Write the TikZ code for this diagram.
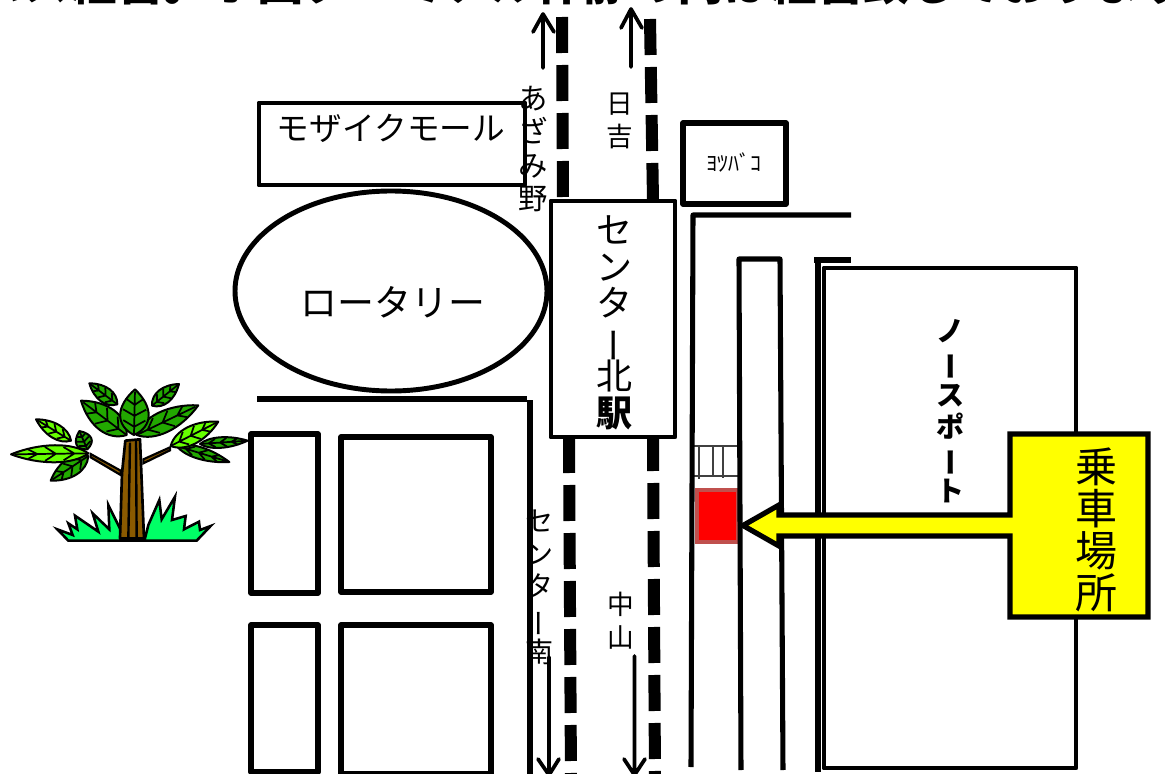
\documentclass[tikz,border=0pt]{standalone}
\usepackage{fontspec}
\setmainfont{Noto Sans CJK JP}
\usepackage{graphicx}
\lineskiplimit=-100pt
\newcommand\vbar{\hbox{\kern.34em\rotatebox[origin=c]{90}{ー}}}
\newcommand\fs[2]{\fontsize{#1}{#2}\selectfont}
\definecolor{leafdark}{HTML}{22A800}
\definecolor{leaflight}{HTML}{66FF00}
\definecolor{trunkbrown}{HTML}{8A5A00}
\definecolor{grassgreen}{HTML}{00FF66}
\definecolor{redstroke}{HTML}{C0504D}
\definecolor{calloutyellow}{HTML}{FFFF00}
\definecolor{stopred}{HTML}{FF0000}
\tikzset{
  ink/.style={draw=black,line width=3.7pt,line join=round},
  road/.style={draw=black,line width=3.8pt},
  rail/.style={draw=black,line width=9pt,dash pattern=on 27pt off 9pt},
  dirarrow/.style={draw=black,line width=2.8pt,line cap=round,line join=round},
  lbl/.style={inner sep=0pt,align=center},
}
\newcommand\treeleaf[6]{%
  \pgfmathsetmacro\leaflen{veclen(#4-#2,#5-#3)}%
  \pgfmathsetmacro\leafang{atan2(#3-#5,#4-#2)}%
  \begin{scope}[shift={(#2,#3)},rotate=\leafang,xscale=\leaflen,yscale=#6]
    \draw[fill=#1,draw=black,line width=1.5pt,line join=round]
      (0,0) .. controls (.2,-.62) and (.62,-.62) .. (1,0) .. controls (.62,.62) and (.2,.62) .. (0,0) -- cycle;
    \draw[black,line width=1.3pt] (0,0)--(.95,0)
      (.18,0)--(.32,-.36) (.18,0)--(.32,.36)
      (.42,0)--(.56,-.38) (.42,0)--(.56,.38)
      (.66,0)--(.78,-.26) (.66,0)--(.78,.26);
  \end{scope}}
\begin{document}
\begin{tikzpicture}[x=.75pt,y=-.75pt]
\useasboundingbox (0,0) rectangle (1165,774);
\fill[white] (0,0) rectangle (1165,774);

% clipped heading
\node[lbl,anchor=base west,font=\bfseries\fs{35}{40}] (heading) at (-23,1) {バス経営。ホ国ターミナル仲静の内は経営致しております};

% rails
\coordinate (ra1) at (562,17); \coordinate (ra2) at (563,200);
\coordinate (rb1) at (650,19); \coordinate (rb2) at (653,200);
\coordinate (rc1) at (569,437); \coordinate (rc2) at (571,780);
\coordinate (rd1) at (653,435); \coordinate (rd2) at (655,780);
\draw[rail] (ra1)--(ra2);
\draw[rail] (rb1)--(rb2);
\draw[rail] (rc1)--(rc2);
\draw[rail] (rd1)--(rd2);

% buildings and roads left
\draw[ink] (259,103) rectangle (525,185);
\draw[ink,fill=white] (391,291) ellipse [x radius=156,y radius=100];
\draw[ink,fill=white] (551,201) rectangle (675,437);
\draw[road] (257,399)--(527,399);
\draw[road] (530,400)--(530,774);
\draw[ink,line width=3.9pt] (251,434) rectangle (318,593);
\draw[ink,line width=3.9pt] (341,437) rectangle (491,592);
\draw[ink,line width=3.9pt] (251,625) rectangle (318,772);
\draw[ink,line width=3.9pt] (341,625) rectangle (491,774);
\draw[ink,line width=3.9pt] (683,123) rectangle (786,204);

% red stop and stairs
\draw[draw=redstroke,fill=stopred,line width=3pt] (697,490) rectangle (738,542);
\draw[black!75,line width=1.3pt] (694,446)--(739,446) (694,476)--(739,476)
  (699,446)--(699,479) (713,446)--(713,476) (723,446)--(723,478);

% right roads
\draw[road,line join=round] (851,215)--(693,215)--(691,767);
\draw[road,line join=round] (741,770)--(739,259)--(780,259)--(783,770);
\draw[road] (814,260)--(851,260);
\draw[road] (818,260)--(818,772);
\draw[ink] (824,268) rectangle (1076,768);

% callout
\draw[ink,fill=calloutyellow,line width=3.9pt,line join=miter]
  (1010,434)--(1148,434)--(1148,617)--(1010,617)--(1010,536)--(779,536)--(779,546)
  --(743,525.5)--(779,505)--(779,515)--(1010,515)--cycle;

% arrows
\coordinate (ua1) at (543,68); \coordinate (ua2) at (543,14);
\coordinate (ub1) at (631,67); \coordinate (ub2) at (631,9);
\coordinate (da1) at (549,657); \coordinate (da2) at (549,775);
\coordinate (db1) at (634.5,656); \coordinate (db2) at (634.5,775);
\draw[dirarrow] (ua1)--(ua2) (533,32)--(ua2)--(554,32);
\draw[dirarrow] (ub1)--(ub2) (621,28)--(ub2)--(642,28);
\draw[dirarrow] (da1)--(da2) (538,759)--(da2)--(559,759);
\draw[dirarrow] (db1)--(db2) (624,759)--(db2)--(645,759);

% labels
\node[lbl,font=\fs{24.5}{28}] (mall) at (391,128) {モザイクモール};
\node[lbl,font=\fs{27.7}{30}] (rot) at (393,302) {ロータリー};
\node[lbl,font=\fs{16.5}{18}] (yotsu) at (734,163) {ﾖﾂﾊﾞｺ};
\node[lbl,font=\fs{22}{25}] (azami) at (533,149) {あ\\ざ\\み\\野};
\node[lbl,font=\fs{20}{24.5}] (hiyoshi) at (620,121) {日\\吉};
\node[lbl,font=\fs{27}{27.4}] (station) at (614,323) {セ\\ン\\タ\\\vbar\\北\\\textbf{駅}};
\node[lbl,font=\fs{21}{24.5}] (south) at (539,587) {セ\\ン\\タ\\\vbar\\南};
\node[lbl,font=\fs{20}{24.5}] (naka) at (621,621) {中\\山};
\node[lbl,font=\bfseries\fs{21}{24}] (north) at (950,411) {ノ\\\vbar\\ス\\ポ\\\vbar\\ト};
\node[lbl,font=\fs{31.5}{31.5}] (board) at (1096,530) {乗\\車\\場\\所};

% tree (drawn in 3x crop coordinates)
\begin{scope}[shift={(0,370)},x=.25pt,y=-.25pt]
  \draw[draw=black,fill=grassgreen,line width=1.9pt,line join=miter]
    (205,512)--(172,478)--(218,495)--(205,460)--(232,478)--(225,437)--(295,485)--(278,430)--(328,478)--(325,405)
    --(362,480)--(362,505)--(435,505)--(445,465)--(478,390)--(485,448)--(525,380)--(516,450)--(557,438)--(552,478)
    --(597,455)--(600,480)--(632,468)--(590,512)--cycle;
  \draw[draw=black,fill=trunkbrown,line width=1.6pt] (272,252)--(362,302)--(362,315)--(272,262)--cycle;
  \draw[draw=black,fill=trunkbrown,line width=1.6pt] (430,268)--(510,232)--(510,241)--(430,280)--cycle;
  \draw[draw=black,fill=trunkbrown,line width=2pt,line join=round]
    (376,212)--(420,208)--(432,505)--(360,505)--(366,310)--cycle;
  \draw[black,line width=1.8pt] (390,218)--(385,505) (408,212)--(410,505);
  \treeleaf{leafdark}{352}{103}{268}{40}{48}
  \treeleaf{leafdark}{456}{107}{537}{42}{48}
  \treeleaf{leafdark}{380}{195}{243}{92}{78}
  \treeleaf{leafdark}{410}{195}{595}{106}{68}
  \treeleaf{leafdark}{402}{195}{405}{58}{92}
  \treeleaf{leaflight}{213}{212}{108}{148}{46}
  \treeleaf{leafdark}{262}{238}{238}{183}{52}
  \treeleaf{leafdark}{265}{258}{152}{332}{58}
  \treeleaf{leaflight}{265}{250}{33}{253}{55}
  \treeleaf{leafdark}{530}{228}{688}{276}{38}
  \treeleaf{leafdark}{600}{222}{743}{212}{34}
  \treeleaf{leaflight}{512}{228}{655}{155}{58}
\end{scope}
\end{tikzpicture}
\end{document}
